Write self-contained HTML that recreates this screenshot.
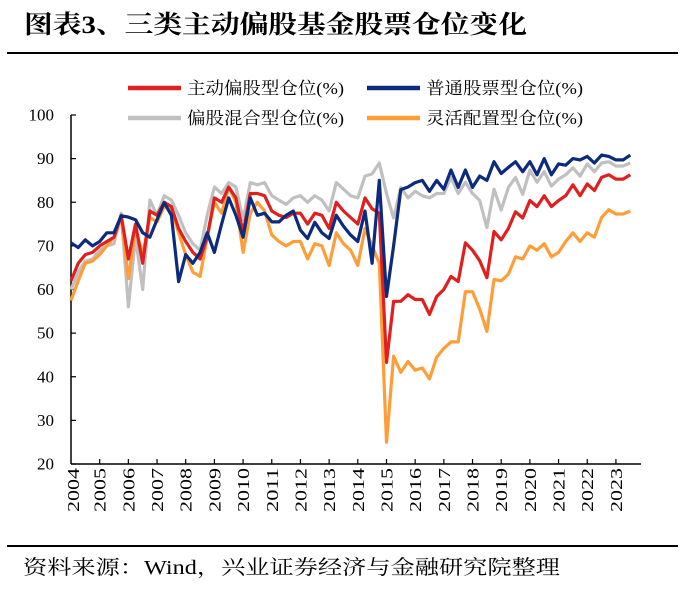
<!DOCTYPE html>
<html><head><meta charset="utf-8"><style>
body{margin:0;background:#fff;width:687px;height:594px;overflow:hidden;font-family:"Liberation Serif","Noto Serif CJK SC",serif;}
</style></head><body>
<svg width="687" height="594" xmlns="http://www.w3.org/2000/svg">
<text x="24" y="33" font-size="25" font-weight="bold" textLength="503" lengthAdjust="spacingAndGlyphs" font-family="Liberation Serif, Noto Serif CJK SC, serif" fill="#000">图表3、三类主动偏股基金股票仓位变化</text>
<line x1="7" y1="53" x2="678" y2="53" stroke="#000" stroke-width="2"/>
<line x1="7" y1="546" x2="678" y2="546" stroke="#000" stroke-width="2"/>
<text x="23" y="574" font-size="20" textLength="537" lengthAdjust="spacingAndGlyphs" font-family="Liberation Serif, Noto Serif CJK SC, serif" fill="#000">资料来源：Wind，兴业证券经济与金融研究院整理</text>
<g id="legend"></g>
<g id="axes"></g>
<g id="series"></g>
</svg>
<script>
const yTicks=[20,30,40,50,60,70,80,90,100];
const years=["2004","2005","2006","2007","2008","2009","2010","2011","2012","2013","2014","2015","2016","2017","2018","2019","2020","2021","2022","2023"];
const seriesNames=["主动偏股型仓位(%)","普通股票型仓位(%)","偏股混合型仓位(%)","灵活配置型仓位(%)"];
const blue=[70.7,69.6,71.4,70,71,73,73,76.9,76.6,76,73,72,76,79.9,77,61.8,68,66,68.5,73,68.5,75,81,77,72,81,77,77.5,75.5,75.5,77,78,73.6,71.7,75.4,73,71.7,77,74.5,72.5,71,78,66,85,58.4,70,82.9,83.5,84.5,85,82.5,85,83,87.4,83.4,87.4,83.4,86,85,89.3,86.6,88,89.3,87,89.3,86.3,90,86.3,88.8,88.5,90,89.7,90.5,89,90.8,90.5,89.7,89.7,90.8];
const gray=[60,64,66.5,67,69,70,70.5,77.5,56,72,60,80.5,77,81.5,80.5,77,73,70.5,69,77,83.5,82,84.5,83.5,76,84.5,84,84.5,81.5,80.5,79.5,81,81.5,80,81.5,80.5,78,84.5,83,81.5,81,86,86.5,89,82,76.4,83.4,81,82.5,81.5,81,82,82,85.7,82,84.6,82,80.4,74.2,83,78.2,83.4,85.7,81.8,87.4,84.6,87,83.7,85.3,86.3,87.9,86,88.8,87,89,89.3,88.3,88.3,89];
const red=[62,66,68,68.5,70,71,72,77,67,75,66,78,77,80,79,74,71,68.5,67,72,81,80,83.5,81,73,82,82,81.5,78,77,76.5,77.5,77.5,75,77.5,77,74,80,78,76.5,75,81,78.5,77.5,43.3,57.3,57.3,58.8,57.7,57.7,54.3,58.4,60,63,61.8,70.7,69,66.6,62.7,73.3,71.4,74,77.8,76.4,80.4,79,81.5,79,80.4,81.5,84,81.5,84.2,82.7,85.7,86.3,85.3,85.3,86.3];
const orange=[57.5,62,66,66.5,68,70,72,76.5,62.5,74,68,76.5,75.5,79,78.5,73,68,64,63,72,80,77.5,83.5,80,68.5,77.5,80,78,72.5,71,70,71,71,67,70.5,70,65.5,73,70.5,69,65.5,74,70,66,25,44.7,41,43.5,41.5,42,39.5,44.5,46.5,48,48,59.5,59.5,55.5,50.4,62.3,62,63.5,67.5,67,70,69,70.5,67.5,68.5,71,73,71,73,72,76.5,78.3,77.3,77.3,78];
const colors=["#e02020","#0c2a7e","#c0c0c0","#ff9e38"];
const allSeries=[red,blue,gray,orange];
const NS="http://www.w3.org/2000/svg";
const X0=71,X1=641,Y0=464,Y100=115,dq=7.17;
function ys(v){return Y0-(v-20)*(Y0-Y100)/80;}
function xs(i){return X0+i*dq;}
function mk(tag,attrs,parent){const e=document.createElementNS(NS,tag);for(const k in attrs)e.setAttribute(k,attrs[k]);parent.appendChild(e);return e;}
const axes=document.getElementById('axes');
let a=mk('line',{x1:X0,y1:Y100,x2:X0,y2:Y0,stroke:'#000','stroke-width':1.5},axes);


a=mk('line',{x1:X0,y1:Y0,x2:X1,y2:Y0,stroke:'#000','stroke-width':1.5},axes);


yTicks.forEach(v=>{
 const t=mk('line',{x1:X0,y1:ys(v),x2:X0+5,y2:ys(v),stroke:'#000','stroke-width':1.2},axes);
 
 
 const l=mk('text',{x:54,y:ys(v)+5.5,'text-anchor':'end','font-size':17,fill:'#000'},axes);
 l.textContent=v;
 
 
});
years.forEach((yr,k)=>{
 const x=xs(k*4);
 if(k>0){const t=mk('line',{x1:x,y1:Y0,x2:x,y2:Y0-5,stroke:'#000','stroke-width':1.2},axes);
 
 }
 const lx=k===0?x+2:x;
 const l=mk('text',{x:0,y:0,transform:`translate(${lx+6},512) rotate(-90)`,'font-size':17,textLength:44,lengthAdjust:'spacingAndGlyphs',fill:'#000'},axes);
 l.textContent=yr;
 
 
});
const sg=document.getElementById('series');
const order=[2,3,0,1];
order.forEach(si=>{
 const d=allSeries[si].map((v,i)=>(i?'L':'M')+xs(i).toFixed(1)+','+ys(v).toFixed(1)).join(' ');
 const p=mk('path',{d:d,fill:'none',stroke:colors[si],'stroke-width':3.2,'stroke-linejoin':'round'},sg);
 
 
});
const lg=document.getElementById('legend');
const lpos=[[128,88],[367,88],[128,118],[367,118]];
seriesNames.forEach((n,i)=>{
 const [x,y]=lpos[i];
 const l=mk('line',{x1:x,y1:y,x2:x+53,y2:y,stroke:colors[i],'stroke-width':4.5},lg);
 
 
 const t=mk('text',{x:x+59,y:y+6,'font-size':17,textLength:157,lengthAdjust:'spacingAndGlyphs',fill:'#000'},lg);
 t.textContent=n;
 
 
});
</script>
</body></html>
